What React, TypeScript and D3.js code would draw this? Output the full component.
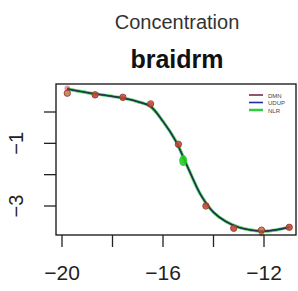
import React from "react";
import * as d3 from "d3";

const xTicks = [-20, -18, -16, -14, -12];
const xTickLabels = ["−20", "−16", "−12"];
const xLabelValues = [-20, -16, -12];
const yTicks = [0, -1, -2, -3];
const yLabelValues = [-1, -3];

const obsX = [-19.79, -18.69, -17.59, -16.49, -15.39, -14.3, -13.2, -12.1, -11.0];
const obsOrange = [0.6, 0.55, 0.47, 0.26, -1.03, -3.0, -3.71, -3.77, -3.68];
const obsRed = [0.76, 0.53, 0.45, 0.24, -1.05, -2.98, -3.72, -3.88, -3.68];
const greenObsX = [-15.2];
const greenObsY = [-1.55];

const curveX = [-19.8, -19, -18, -17.5, -17, -16.5, -16, -15.5, -15, -14.5, -14, -13.5, -13, -12.5, -12, -11.5, -11];
const curveY = [0.74, 0.62, 0.5, 0.43, 0.33, 0.18, -0.3, -0.92, -1.8, -2.65, -3.2, -3.5, -3.68, -3.77, -3.8, -3.76, -3.68];

const seriesNames = ["DMN", "UDUP", "NLR"];
const seriesColors = ["#7a2a4a", "#2a2aa8", "#2ecc40"];
const seriesWidths = [1, 1.4, 3.2];

export default function App() {
  const W = 298, H = 291;
  const box = { l: 56, r: 296, t: 84, b: 235 };
  const x = d3.scaleLinear().domain([-20, -12]).range([62, 264]);
  const y = d3.scaleLinear().domain([0, -3]).range([112, 206]);
  const line = d3
    .line<number>()
    .x((_, i) => x(curveX[i]))
    .y((d) => y(d))
    .curve(d3.curveCatmullRom);
  const pathD = line(curveY) || "";
  const font = "Liberation Sans, Arial, sans-serif";
  const order = [2, 1, 0];
  return (
    <svg width={W} height={H} style={{ position: "absolute", left: 0, top: 0 }}>
      <rect width={W} height={H} fill="#fff" />
      <text x={177} y={29} textAnchor="middle" fontFamily={font} fontSize={20} fill="#333">Concentration</text>
      <text x={177} y={68} textAnchor="middle" fontFamily={font} fontSize={25} fontWeight="bold" fill="#111">braidrm</text>
      {order.map((k) => (
        <path key={k} d={pathD} fill="none" stroke={seriesColors[k]} strokeWidth={seriesWidths[k]} opacity={k === 2 ? 0.85 : 1} />
      ))}
      <path d={pathD} fill="none" stroke="#0b3b3e" strokeWidth={1.2} opacity={0.8} />
      {obsX.map((v, i) => (
        <circle key={"o" + i} cx={x(v)} cy={y(obsOrange[i])} r={3.2} fill="#b8703a" fillOpacity={0.8} stroke="#903030" strokeWidth={0.8} />
      ))}
      {obsX.map((v, i) => (
        <circle key={"r" + i} cx={x(v)} cy={y(obsRed[i])} r={2.8} fill="#c02030" fillOpacity={0.45} stroke="none" />
      ))}
      {greenObsX.map((v, i) => (
        <ellipse key={"g" + i} cx={x(v)} cy={y(greenObsY[i])} rx={4} ry={5.5} fill="#22cc22" fillOpacity={0.9} />
      ))}
      <rect x={box.l} y={box.t} width={box.r - box.l} height={box.b - box.t} fill="none" stroke="#111" strokeWidth={1.3} />
      {xTicks.map((t) => (
        <line key={"xt" + t} x1={x(t)} x2={x(t)} y1={box.b} y2={box.b + 12} stroke="#222" strokeWidth={1.3} />
      ))}
      {xLabelValues.map((t, i) => (
        <text key={"xl" + t} x={x(t)} y={280} textAnchor="middle" fontFamily={font} fontSize={21} fill="#222">{xTickLabels[i]}</text>
      ))}
      {yTicks.map((t) => (
        <line key={"yt" + t} x1={box.l - 12} x2={box.l} y1={y(t)} y2={y(t)} stroke="#222" strokeWidth={1.3} />
      ))}
      {yLabelValues.map((t) => (
        <text key={"yl" + t} x={0} y={0} transform={`translate(${23},${y(t)}) rotate(-90)`} textAnchor="middle" fontFamily={font} fontSize={20} fill="#222">{"−" + Math.abs(t)}</text>
      ))}
      {seriesNames.map((n, i) => (
        <g key={n}>
          <line x1={249} x2={263} y1={95 + i * 7.5} y2={95 + i * 7.5} stroke={seriesColors[i]} strokeWidth={i === 2 ? 2.5 : 1.6} />
          <text x={268} y={97.5 + i * 7.5} fontFamily={font} fontSize={6} fill="#444">{n}</text>
        </g>
      ))}
    </svg>
  );
}
